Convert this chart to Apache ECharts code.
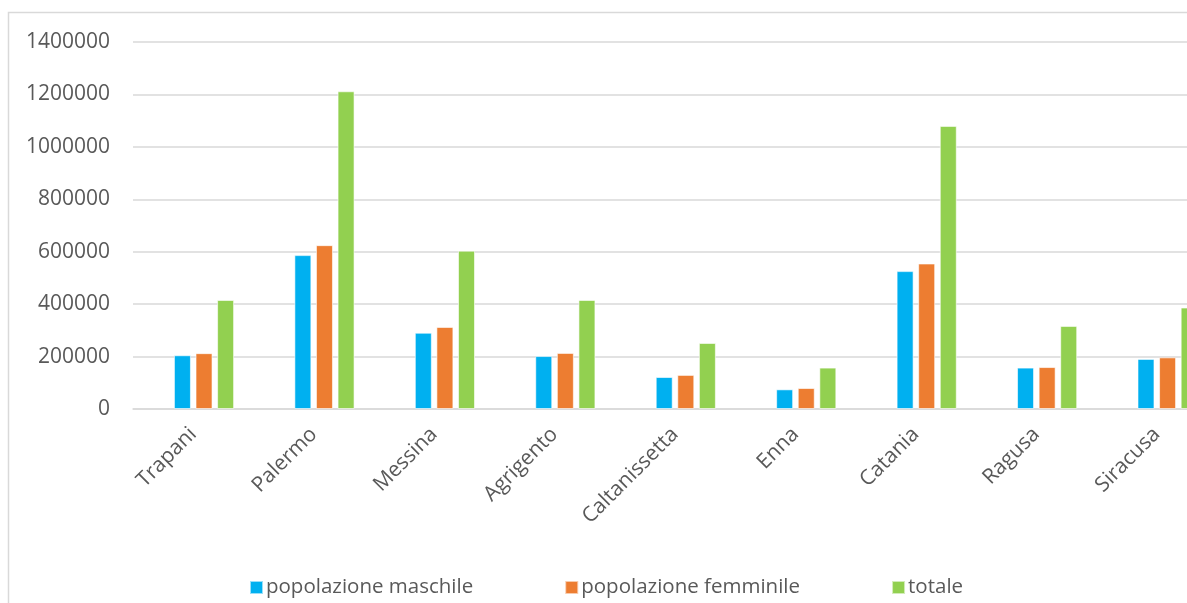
<!DOCTYPE html>
<html>
<head>
<meta charset="utf-8">
<script src="https://cdn.jsdelivr.net/npm/echarts@6/dist/echarts.min.js"></script>
<style>
html,body{margin:0;padding:0;background:#fff;overflow:hidden;width:1187px;height:603px;}
#c{width:1230px;height:603px;}
</style>
</head>
<body>
<div id="c"></div>
<script>
const categories = ['Trapani','Palermo','Messina','Agrigento','Caltanissetta','Enna','Catania','Ragusa','Siracusa'];
const placeholder = [0,0,0,0,0,0,0,0,0];
const maschile = [205000,587000,291000,202000,122000,75000,526000,158000,191000];
const femminile = [213000,625000,313000,214000,130000,80000,555000,160000,197000];
const totale = [416000,1212000,604000,416000,252000,158000,1080000,317000,387000];
const yTicks = {min:0, max:1400000, interval:200000};

const chart = echarts.init(document.getElementById('c'), null, {renderer:'canvas'});
const font = "'Open Sans', 'Liberation Sans', sans-serif";
const txt = '#595959';
const barStyle = c => ({color:c, borderColor:'rgba(255,255,255,0.6)', borderWidth:1});
chart.setOption({
  animation:false,
  backgroundColor:'#fff',
  graphic:[{type:'rect', shape:{x:8.5,y:12.5,width:1300,height:700}, style:{fill:'none', stroke:'#d9d9d9', lineWidth:1.5}, silent:true}],
  grid:{left:133, width:1084, top:42, height:367, containLabel:false},
  legend:{
    data:['popolazione maschile','popolazione femminile','totale'],
    left:244, top:572, itemWidth:13, itemHeight:13, itemGap:91, icon:'rect',
    textStyle:{fontFamily:font, fontSize:20.5, color:txt, padding:[0,0,0,-2]}
  },
  xAxis:{
    type:'category', data:categories,
    axisLine:{lineStyle:{color:'#d9d9d9', width:1.5}},
    axisTick:{show:false},
    axisLabel:{rotate:45, fontFamily:font, fontSize:21, color:txt, margin:22, interval:0}
  },
  yAxis:{
    type:'value', min:yTicks.min, max:yTicks.max, interval:yTicks.interval,
    axisLine:{show:false}, axisTick:{show:false},
    splitLine:{lineStyle:{color:'#d9d9d9', width:1.5}},
    axisLabel:{fontFamily:font, fontSize:21, color:txt, margin:23, formatter: v => String(v)}
  },
  series:[
    {name:'', type:'bar', data:placeholder, barWidth:17, barGap:'27%', itemStyle:{color:'rgba(0,0,0,0)', borderWidth:0}},
    {name:'popolazione maschile', type:'bar', data:maschile, barWidth:17, barGap:'27%', itemStyle:barStyle('#00B0F0')},
    {name:'popolazione femminile', type:'bar', data:femminile, barWidth:17, barGap:'27%', itemStyle:barStyle('#ED7D31')},
    {name:'totale', type:'bar', data:totale, barWidth:17, barGap:'27%', itemStyle:barStyle('#92D050')}
  ]
});
</script>
</body>
</html>
